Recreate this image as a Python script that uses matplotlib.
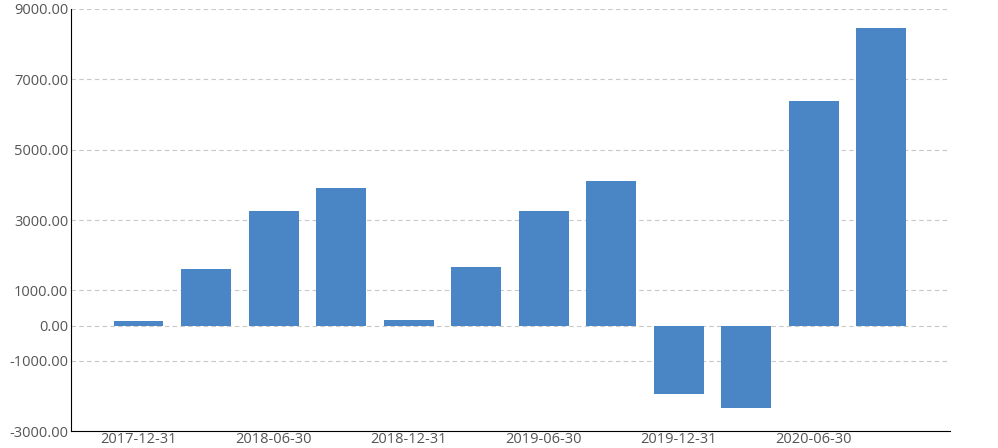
import numpy as np
import matplotlib
matplotlib.use("Agg")
import matplotlib.pyplot as plt

# 季度末日期
dates = ["2017-12-31", "2018-03-31", "2018-06-30", "2018-09-30",
         "2018-12-31", "2019-03-31", "2019-06-30", "2019-09-30",
         "2019-12-31", "2020-03-31", "2020-06-30", "2020-09-30"]
values = [128, 1606, 3256, 3910, 156, 1663, 3256, 4109,
          -1948, -2346, 6384, 8460]
yticks = [9000, 7000, 5000, 3000, 1000, 0, -1000, -3000]

if __name__ == '__main__':
    plt.rcParams['font.family'] = ['Open Sans', 'DejaVu Sans']
    fig = plt.figure(figsize=(9.98, 4.48), dpi=100)
    ax = fig.add_axes([71 / 998, 1 - 431 / 448, (950 - 71) / 998, (431 - 9) / 448])

    x = np.arange(len(dates))
    ax.bar(x, values, width=0.74, color="#4a86c5", zorder=2)

    ax.set_xlim(-1.0, 12.02)
    ax.set_ylim(-3000, 9000)
    ax.set_yticks(yticks)
    ax.set_yticklabels(["%.2f" % v for v in yticks])
    ax.set_xticks(x[::2])
    ax.set_xticklabels(dates[::2])

    ax.grid(axis="y", linestyle=(0, (4, 3)), color="#c8c8c8", linewidth=0.8, zorder=0)
    for s in ["top", "right"]:
        ax.spines[s].set_visible(False)
    ax.spines["left"].set_color("black")
    ax.spines["bottom"].set_color("black")
    ax.tick_params(axis="both", length=0, labelsize=10.5, colors="#555555", pad=2)
    ax.tick_params(axis="x", pad=1)

    fig.savefig("out.png", dpi=100)
